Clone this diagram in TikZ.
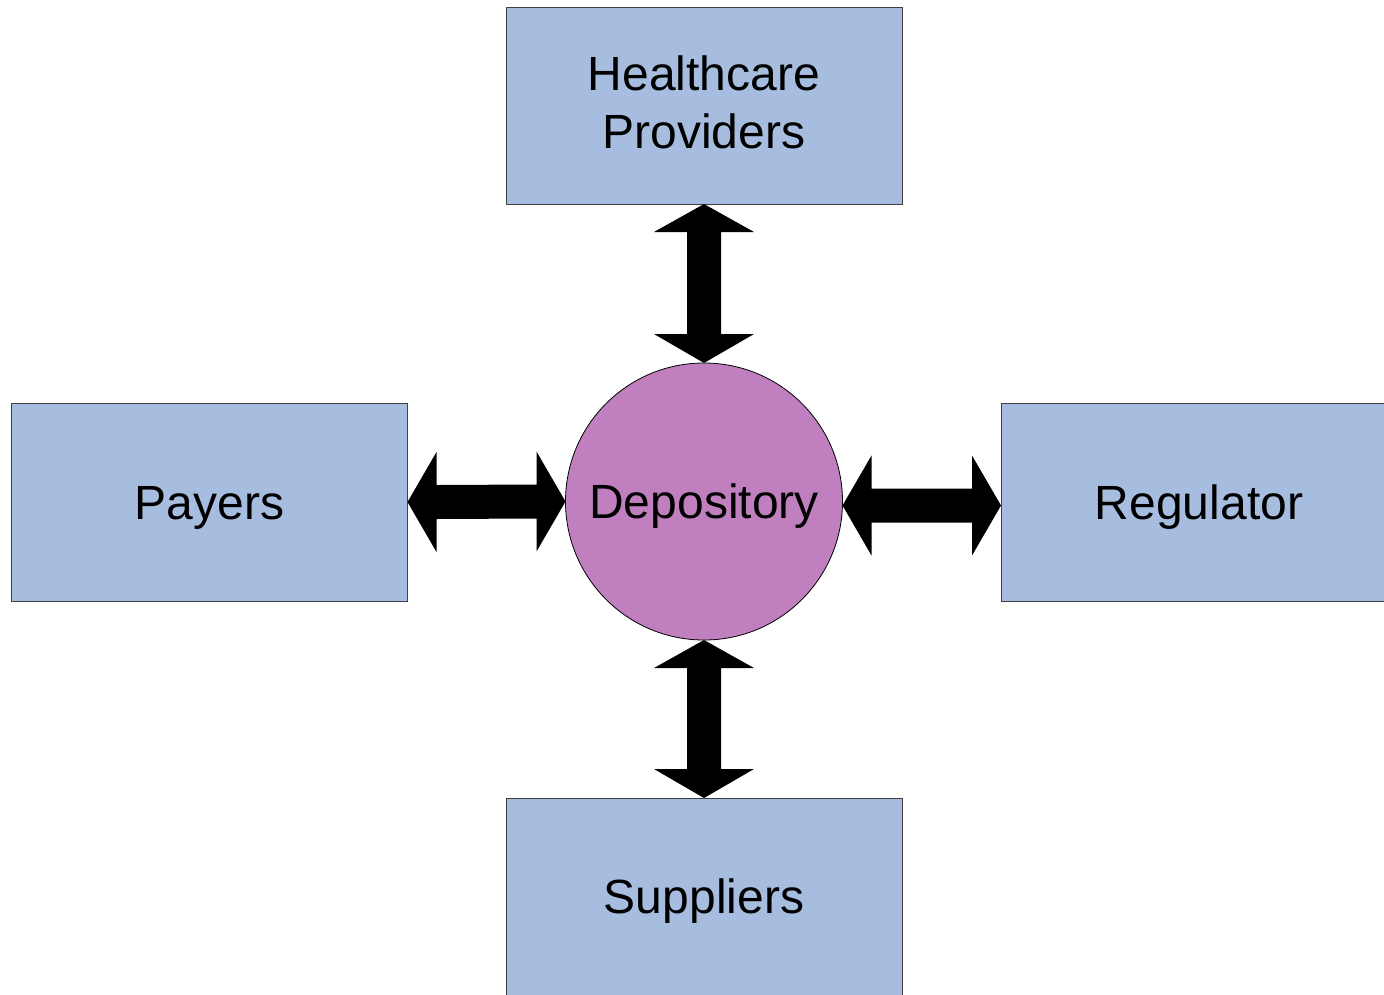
\documentclass[tikz,border=0pt]{standalone}
\usepackage{fontspec}
\setmainfont{Liberation Sans}
\usetikzlibrary{calc}
\definecolor{boxblue}{HTML}{A6BDDF}
\definecolor{circpurple}{HTML}{C080BF}
\begin{document}
\begin{tikzpicture}[x=1pt,y=-1pt,
  bigtext/.style={font=\fontsize{48}{58}\selectfont},
  onelinetext/.style={text height=34.5pt, text depth=0pt},
  entitybox/.style={rectangle, draw=black!75, line width=1pt, fill=boxblue,
    minimum width=396pt, minimum height=197pt, inner sep=0pt, outer sep=0pt, bigtext, align=center},
  hub/.style={circle, draw=black, line width=0.8pt, fill=circpurple,
    minimum size=277pt, inner sep=0pt, outer sep=0pt, bigtext, onelinetext},
  blockarrow/.style={fill=black}]
\useasboundingbox (0,0) rectangle (1384,994);

\node[entitybox, text depth=6pt] (hc) at (704,105.5) {Healthcare\\Providers};
\node[entitybox, onelinetext, minimum height=198pt] (pay) at (209.5,502) {Payers};
\node[entitybox, onelinetext, minimum height=198pt] (reg) at (1199,502) {Regulator};
\node[entitybox, onelinetext] (sup) at (704,896.5) {Suppliers};
\node[hub] (dep) at (704,501.5) {Depository};

% top arrow
\fill[blockarrow] (hc.south) -- ++(50,28) -- ++(-33,0) -- ($(dep.north)+(17,-29)$) -- ++(33,0)
  -- (dep.north) -- ++(-50,-29) -- ++(33,0) -- ($(hc.south)+(-17,28)$) -- ++(-33,0) -- cycle;
% bottom arrow
\fill[blockarrow] (dep.south) -- ++(50,28) -- ++(-33,0) -- ($(sup.north)+(17,-29)$) -- ++(33,0)
  -- (sup.north) -- ++(-50,-29) -- ++(33,0) -- ($(dep.south)+(-17,28)$) -- ++(-33,0) -- cycle;
% left arrow
\fill[blockarrow] (pay.east) -- ++(29,-50) -- ++(0,33) -- ($(dep.west)+(-29,-17)$) -- ++(0,-33)
  -- (dep.west) -- ++(-29,50) -- ++(0,-33) -- ($(pay.east)+(29,17)$) -- ++(0,33) -- cycle;
% right arrow
\coordinate (rA) at ($(dep.east)+(0,4)$);
\coordinate (rB) at (reg.west |- rA);
\fill[blockarrow] (rA) -- ++(29,-50) -- ++(0,33) -- ($(rB)+(-29,-17)$) -- ++(0,-33)
  -- (rB) -- ++(-29,50) -- ++(0,-33) -- ($(rA)+(29,17)$) -- ++(0,33) -- cycle;
\end{tikzpicture}
\end{document}
